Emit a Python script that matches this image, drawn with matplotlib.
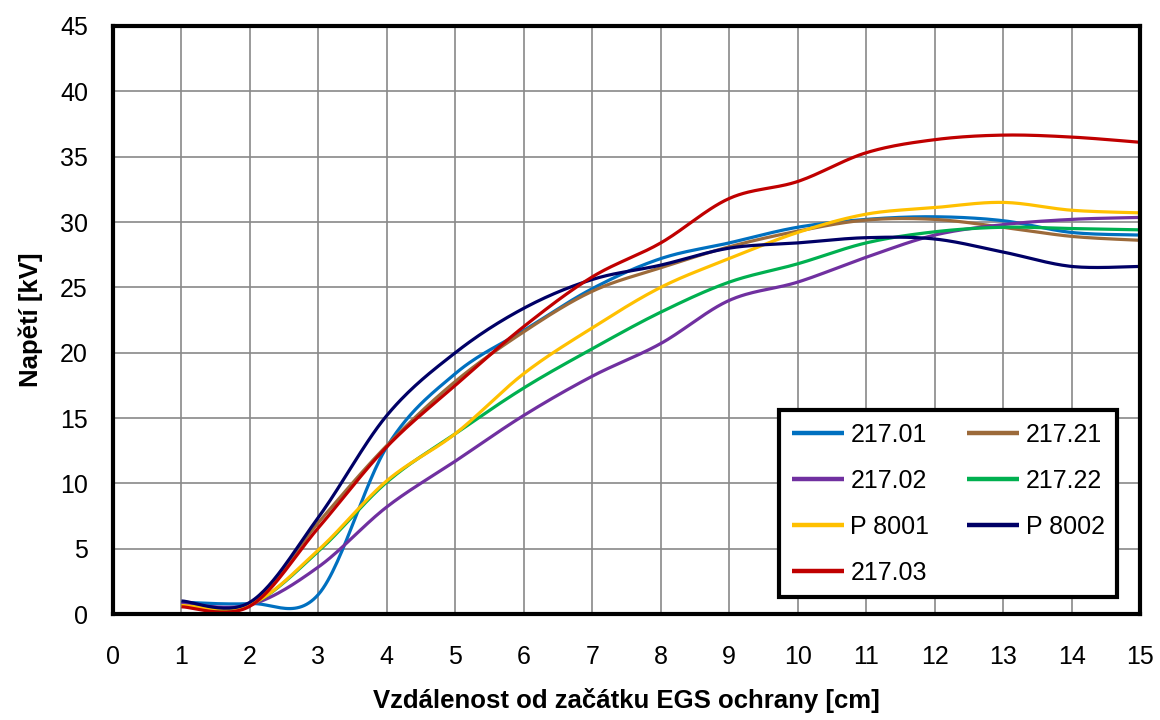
import numpy as np
import matplotlib
matplotlib.use("Agg")
import matplotlib.pyplot as plt

plt.rcParams['font.family'] = ['Liberation Sans', 'DejaVu Sans']

# data (x = distance in cm)
distance = [1, 2, 3, 4, 5, 6, 7, 8, 9, 10, 11, 12, 13, 14, 15]
s_217_01 = [0.9, 0.8, 1.5, 12.8, 18.4, 21.7, 24.9, 27.2, 28.4, 29.6, 30.2, 30.4, 30.1, 29.2, 29.0]
s_217_21 = [0.75, 0.7, 7.0, 12.9, 17.8, 21.6, 24.7, 26.5, 28.1, 29.3, 30.15, 30.2, 29.6, 28.9, 28.6]
s_217_02 = [0.8, 0.7, 3.6, 8.2, 11.7, 15.2, 18.2, 20.7, 24.0, 25.4, 27.3, 29.0, 29.8, 30.2, 30.35]
s_217_22 = [0.6, 0.7, 4.8, 10.1, 13.8, 17.3, 20.3, 23.1, 25.4, 26.8, 28.4, 29.25, 29.6, 29.5, 29.4]
s_p8001 = [0.65, 0.7, 4.9, 10.2, 13.8, 18.4, 21.9, 25.0, 27.2, 29.2, 30.6, 31.1, 31.5, 30.9, 30.7]
s_p8002 = [1.0, 0.9, 7.4, 15.2, 20.0, 23.4, 25.6, 26.7, 28.0, 28.4, 28.8, 28.7, 27.7, 26.6, 26.6]
s_217_03 = [0.55, 0.6, 6.6, 12.8, 17.5, 22.0, 25.8, 28.4, 31.8, 33.1, 35.3, 36.3, 36.65, 36.5, 36.1]

labels = ['217.01', '217.21', '217.02', '217.22', 'P 8001', 'P 8002', '217.03']
series = [s_217_01, s_217_21, s_217_02, s_217_22, s_p8001, s_p8002, s_217_03]
colors = ['#0070C0', '#9C6A3A', '#7030A0', '#00B050', '#FFC000', '#000066', '#C00000']


def smooth(x, y, n=30):
    # Excel-like smoothed line: cubic Bezier segments with Catmull-Rom tangents
    x = np.asarray(x, float)
    y = np.asarray(y, float)
    px = np.concatenate([[x[0]], x, [x[-1]]])
    py = np.concatenate([[y[0]], y, [y[-1]]])
    t = np.linspace(0, 1, n)[:, None]
    out_x, out_y = [], []
    for i in range(1, len(px) - 2):
        p0 = np.array([px[i], py[i]])
        p3 = np.array([px[i + 1], py[i + 1]])
        c1 = p0 + (np.array([px[i + 1], py[i + 1]]) - np.array([px[i - 1], py[i - 1]])) / 6
        c2 = p3 - (np.array([px[i + 2], py[i + 2]]) - np.array([px[i], py[i]])) / 6
        pts = ((1 - t) ** 3) * p0 + 3 * ((1 - t) ** 2) * t * c1 + 3 * (1 - t) * t ** 2 * c2 + t ** 3 * p3
        out_x.append(pts[:, 0])
        out_y.append(pts[:, 1])
    return np.concatenate(out_x), np.concatenate(out_y)


fig = plt.figure(figsize=(11.6, 7.2), dpi=100)
ax = fig.add_axes([0.0974, 0.1472, 0.8854, 0.8167])

handles = {}
for lab, vals, col in zip(labels, series, colors):
    sx, sy = smooth(distance, vals)
    handles[lab], = ax.plot(sx, sy, color=col, lw=2.3, label=lab, solid_capstyle='butt')

ax.set_xlim(0, 15)
ax.set_ylim(0, 45)
ax.set_xticks(range(0, 16))
ax.set_yticks(range(0, 46, 5))
ax.grid(True, color='#898989', lw=1.2)
ax.set_axisbelow(True)
for sp in ax.spines.values():
    sp.set_linewidth(3.0)
    sp.set_color('black')
ax.tick_params(length=0, labelsize=18)
ax.tick_params(axis='x', pad=22)
ax.tick_params(axis='y', pad=18)

ax.set_xlabel('Vzdálenost od začátku EGS ochrany [cm]', fontsize=18.5, fontweight='bold', labelpad=14)
ax.set_ylabel('Napětí [kV]', fontsize=18.5, fontweight='bold', labelpad=12)

# legend is filled row by row in the reference
order = ['217.01', '217.02', 'P 8001', '217.03', '217.21', '217.22', 'P 8002']
leg = ax.legend([handles[k] for k in order], order, ncol=2, loc='lower right',
                bbox_to_anchor=(0.9776, 0.0289), borderaxespad=0, fontsize=18,
                handlelength=2.1, handletextpad=0.25, columnspacing=1.5,
                labelspacing=0.88, fancybox=False, framealpha=1,
                edgecolor='black', borderpad=0.5)
leg.get_frame().set_linewidth(3.0)
for h in leg.get_lines():
    h.set_linewidth(3.2)

fig.savefig('out.png', dpi=100)
